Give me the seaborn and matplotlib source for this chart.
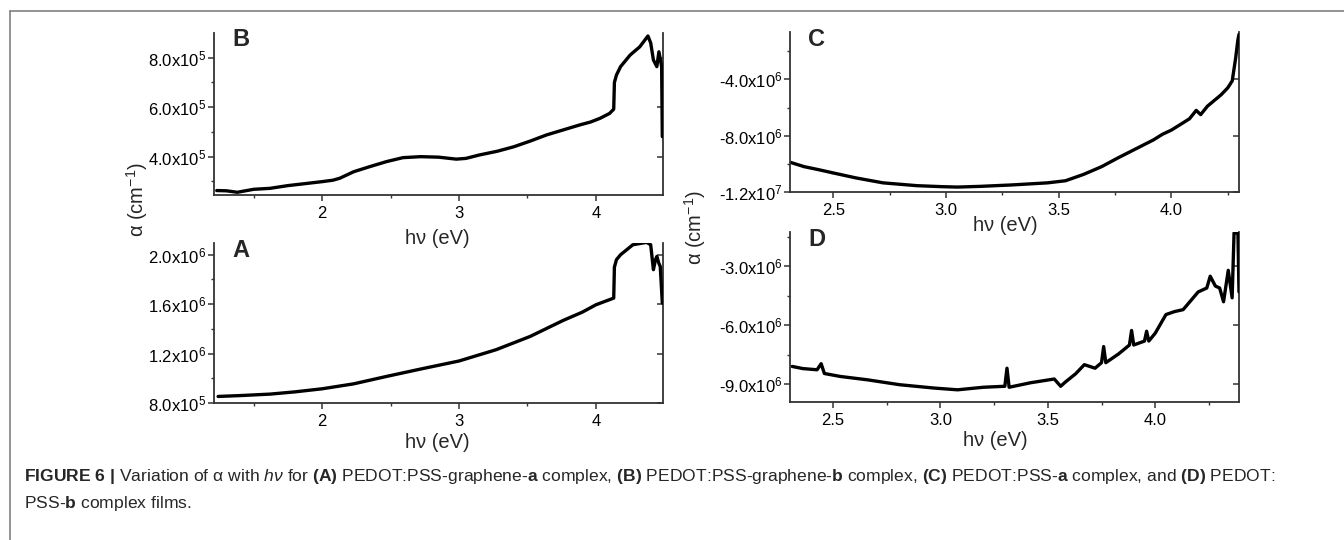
import numpy as np
import pandas as pd
import seaborn as sns
import matplotlib
matplotlib.use("Agg")
import matplotlib.pyplot as plt
from matplotlib.lines import Line2D

# ---------------- data ----------------
a_ev = [1.24, 1.40, 1.62, 1.80, 2.00, 2.23, 2.47, 2.72, 3.00, 3.27, 3.52, 3.76,
        3.90, 4.00, 4.13, 4.135, 4.15, 4.18, 4.27, 4.37, 4.40, 4.42, 4.435,
        4.445, 4.46, 4.47, 4.485]
a_alpha = [853e3, 860e3, 872e3, 890e3, 915e3, 955e3, 1015e3, 1075e3, 1140e3,
           1231e3, 1339e3, 1468e3, 1535e3, 1595e3, 1649e3, 1900e3, 1960e3,
           2000e3, 2081e3, 2100e3, 2081e3, 1879e3, 1960e3, 1986e3, 1930e3,
           1905e3, 1609e3]

b_ev = [1.23, 1.30, 1.38, 1.50, 1.62, 1.75, 1.86, 2.00, 2.08, 2.13, 2.23, 2.35,
        2.47, 2.59, 2.72, 2.85, 2.98, 3.05, 3.15, 3.28, 3.40, 3.52, 3.64, 3.76,
        3.88, 3.96, 4.03, 4.10, 4.13, 4.135, 4.15, 4.18, 4.25, 4.32, 4.38,
        4.40, 4.42, 4.445, 4.46, 4.475, 4.48, 4.485]
b_alpha = [263e3, 262e3, 256e3, 268e3, 272e3, 283e3, 290e3, 299e3, 305e3,
           313e3, 339e3, 360e3, 380e3, 396e3, 400e3, 398e3, 390e3, 393e3,
           407e3, 422e3, 440e3, 463e3, 488e3, 508e3, 528e3, 540e3, 555e3,
           575e3, 592e3, 700e3, 730e3, 764e3, 811e3, 844e3, 888e3, 860e3,
           791e3, 764e3, 824e3, 780e3, 764e3, 481e3]

c_ev = [2.31, 2.37, 2.43, 2.50, 2.60, 2.72, 2.87, 2.98, 3.05, 3.15, 3.29, 3.45,
        3.53, 3.61, 3.69, 3.76, 3.84, 3.92, 3.96, 4.00, 4.08, 4.11, 4.13, 4.16,
        4.22, 4.25, 4.27, 4.285, 4.295, 4.30]
c_alpha = [-9.9e6, -10.2e6, -10.4e6, -10.65e6, -11.0e6, -11.35e6, -11.55e6,
           -11.62e6, -11.65e6, -11.6e6, -11.5e6, -11.35e6, -11.2e6, -10.75e6,
           -10.2e6, -9.6e6, -8.95e6, -8.3e6, -7.9e6, -7.6e6, -6.8e6, -6.2e6,
           -6.5e6, -5.9e6, -5.1e6, -4.6e6, -4.1e6, -2.5e6, -1.2e6, -0.8e6]

d_ev = [2.31, 2.36, 2.426, 2.445, 2.46, 2.534, 2.66, 2.81, 2.97, 3.08, 3.20,
        3.30, 3.31, 3.32, 3.42, 3.53, 3.56, 3.58, 3.63, 3.67, 3.72, 3.75, 3.76,
        3.77, 3.83, 3.88, 3.89, 3.90, 3.95, 3.96, 3.97, 4.00, 4.05, 4.09, 4.13,
        4.20, 4.24, 4.256, 4.28, 4.30, 4.318, 4.34, 4.358, 4.367, 4.385, 4.39]
d_alpha = [-8.09e6, -8.2e6, -8.26e6, -7.95e6, -8.45e6, -8.6e6, -8.77e6,
           -9.02e6, -9.19e6, -9.28e6, -9.15e6, -9.1e6, -8.18e6, -9.15e6,
           -8.92e6, -8.73e6, -9.1e6, -8.9e6, -8.46e6, -8.0e6, -8.18e6, -7.9e6,
           -7.08e6, -7.9e6, -7.45e6, -7.0e6, -6.26e6, -7.0e6, -6.8e6, -6.3e6,
           -6.8e6, -6.4e6, -5.45e6, -5.3e6, -5.2e6, -4.3e6, -4.1e6, -3.5e6,
           -4.0e6, -4.1e6, -4.8e6, -3.2e6, -4.6e6, -1.3e6, -1.3e6, -4.3e6]

ab_xticks = [2, 3, 4]
ab_xticklabels = ["2", "3", "4"]
cd_xticks = [2.5, 3.0, 3.5, 4.0]
cd_xticklabels = ["2.5", "3.0", "3.5", "4.0"]

a_yticks = [8.0e5, 1.2e6, 1.6e6, 2.0e6]
a_yticklabels = ["8.0x10$^{5}$", "1.2x10$^{6}$", "1.6x10$^{6}$", "2.0x10$^{6}$"]
b_yticks = [4.0e5, 6.0e5, 8.0e5]
b_yticklabels = ["4.0x10$^{5}$", "6.0x10$^{5}$", "8.0x10$^{5}$"]
c_yticks = [-1.2e7, -8.0e6, -4.0e6]
c_yticklabels = ["-1.2x10$^{7}$", "-8.0x10$^{6}$", "-4.0x10$^{6}$"]
d_yticks = [-9.0e6, -6.0e6, -3.0e6]
d_yticklabels = ["-9.0x10$^{6}$", "-6.0x10$^{6}$", "-3.0x10$^{6}$"]

xlabel = "h\u03bd (eV)"
ylabel = "\u03b1 (cm$^{-1}$)"

# ---------------- style ----------------
sns.set_style("ticks")
plt.rcParams["font.family"] = ["Liberation Sans", "DejaVu Sans"]
plt.rcParams["mathtext.fontset"] = "custom"
plt.rcParams["mathtext.rm"] = "Liberation Sans"
plt.rcParams["mathtext.it"] = "Liberation Sans:italic"
plt.rcParams["mathtext.bf"] = "Liberation Sans:bold"
plt.rcParams["mathtext.default"] = "regular"

W, H = 1344, 540
fig = plt.figure(figsize=(W / 100, H / 100), dpi=100)
fig.patch.set_facecolor("white")


def add_ax(l, t, r, b):
    return fig.add_axes([l / W, 1 - b / H, (r - l) / W, (b - t) / H])


panels = [
    dict(box=(214, 33, 663, 195), ev=b_ev, al=b_alpha, xlim=(1.21, 4.49),
         ylim=(2.45e5, 9.0e5), xt=ab_xticks, xtl=ab_xticklabels,
         xmin=[1.5, 2.5, 3.5], yt=b_yticks, ytl=b_yticklabels,
         ymin=[3e5, 5e5, 7e5], letter="B", xlab=(437, 238)),
    dict(box=(214, 243, 663, 403), ev=a_ev, al=a_alpha, xlim=(1.21, 4.49),
         ylim=(8.0e5, 2.095e6), xt=ab_xticks, xtl=ab_xticklabels,
         xmin=[1.5, 2.5, 3.5], yt=a_yticks, ytl=a_yticklabels,
         ymin=[1.0e6, 1.4e6, 1.8e6], letter="A", xlab=(437, 443)),
    dict(box=(790, 32, 1239, 192), ev=c_ev, al=c_alpha, xlim=(2.307, 4.30),
         ylim=(-1.2e7, -0.63e6), xt=cd_xticks, xtl=cd_xticklabels,
         xmin=[2.75, 3.25, 3.75, 4.25], yt=c_yticks, ytl=c_yticklabels,
         ymin=[-1.0e7, -6.0e6, -2.0e6], letter="C", xlab=(1005, 225)),
    dict(box=(790, 232, 1239, 402), ev=d_ev, al=d_alpha, xlim=(2.30, 4.39),
         ylim=(-9.9e6, -1.25e6), xt=cd_xticks, xtl=cd_xticklabels,
         xmin=[2.75, 3.25, 3.75, 4.25], yt=d_yticks, ytl=d_yticklabels,
         ymin=[-7.5e6, -4.5e6, -1.5e6], letter="D", xlab=(995, 440)),
]

spine_col = "#333333"
for p in panels:
    ax = add_ax(*p["box"])
    df = pd.DataFrame({"ev": p["ev"], "alpha": p["al"]})
    sns.lineplot(data=df, x="ev", y="alpha", ax=ax, color="black",
                 linewidth=2.4, sort=False, estimator=None)
    ax.set_xlim(*p["xlim"])
    ax.set_ylim(*p["ylim"])
    ax.set_xticks(p["xt"], p["xtl"])
    ax.set_xticks(p["xmin"], minor=True)
    ax.set_yticks(p["yt"], p["ytl"])
    ax.set_yticks(p["ymin"], minor=True)
    ax.set_xlabel("")
    ax.set_ylabel("")
    ax.spines["top"].set_visible(False)
    ax.spines["right"].set_visible(False)
    for s in ("left", "bottom"):
        ax.spines[s].set_visible(True)
        ax.spines[s].set_color(spine_col)
        ax.spines[s].set_linewidth(1.3)
    ax.tick_params(axis="both", which="major", direction="out", length=4,
                   width=1.1, color=spine_col, labelsize=12, pad=1.5,
                   labelcolor="black")
    ax.tick_params(axis="both", which="minor", direction="out", length=2.5,
                   width=1.0, color=spine_col)
    ax.tick_params(axis="x", which="major", pad=4)
    ax.patch.set_alpha(0)

    # right axis: spine with inward major ticks, no labels
    sec = ax.secondary_yaxis("right")
    sec.set_yticks(p["yt"])
    sec.set_yticklabels([])
    sec.spines["right"].set_color(spine_col)
    sec.spines["right"].set_linewidth(1.3)
    sec.tick_params(axis="y", which="major", direction="in", length=4,
                    width=1.1, color=spine_col)
    sec.tick_params(axis="y", which="minor", length=0)

    l, t, r, b = p["box"]
    fig.text((l + 18) / W, 1 - (t + 7) / H, p["letter"], fontsize=17,
             fontweight="bold", ha="left", va="center")
    fig.text(p["xlab"][0] / W, 1 - p["xlab"][1] / H, xlabel, fontsize=14.5,
             ha="center", va="center")

fig.text(137 / W, 1 - 200 / H, ylabel, fontsize=14.5, rotation=90,
         ha="center", va="center")
fig.text(695 / W, 1 - 228 / H, ylabel, fontsize=14.5, rotation=90,
         ha="center", va="center")

# frame lines
fig.add_artist(Line2D([10 / W, 1.0], [1 - 11 / H, 1 - 11 / H],
                      transform=fig.transFigure, color="#808080", lw=1.2))
fig.add_artist(Line2D([10 / W, 10 / W], [1 - 11 / H, 0.0],
                      transform=fig.transFigure, color="#808080", lw=1.2))

# caption
cap1 = (r"$\mathbf{FIGURE\ 6\ |}$ Variation of ALPHA with $\mathit{h\nu}$ for "
        r"$\mathbf{(A)}$ PEDOT:PSS-graphene-$\mathbf{a}$ complex, "
        r"$\mathbf{(B)}$ PEDOT:PSS-graphene-$\mathbf{b}$ complex, "
        r"$\mathbf{(C)}$ PEDOT:PSS-$\mathbf{a}$ complex, and "
        r"$\mathbf{(D)}$ PEDOT:")
cap1 = cap1.replace("ALPHA", "\u03b1")
cap2 = r"PSS-$\mathbf{b}$ complex films."
fig.text(24 / W, 1 - 481 / H, cap1, fontsize=12.6, ha="left",
         va="baseline")
fig.text(24 / W, 1 - 508 / H, cap2, fontsize=12.6, ha="left",
         va="baseline")

fig.savefig("out.png", dpi=100)
